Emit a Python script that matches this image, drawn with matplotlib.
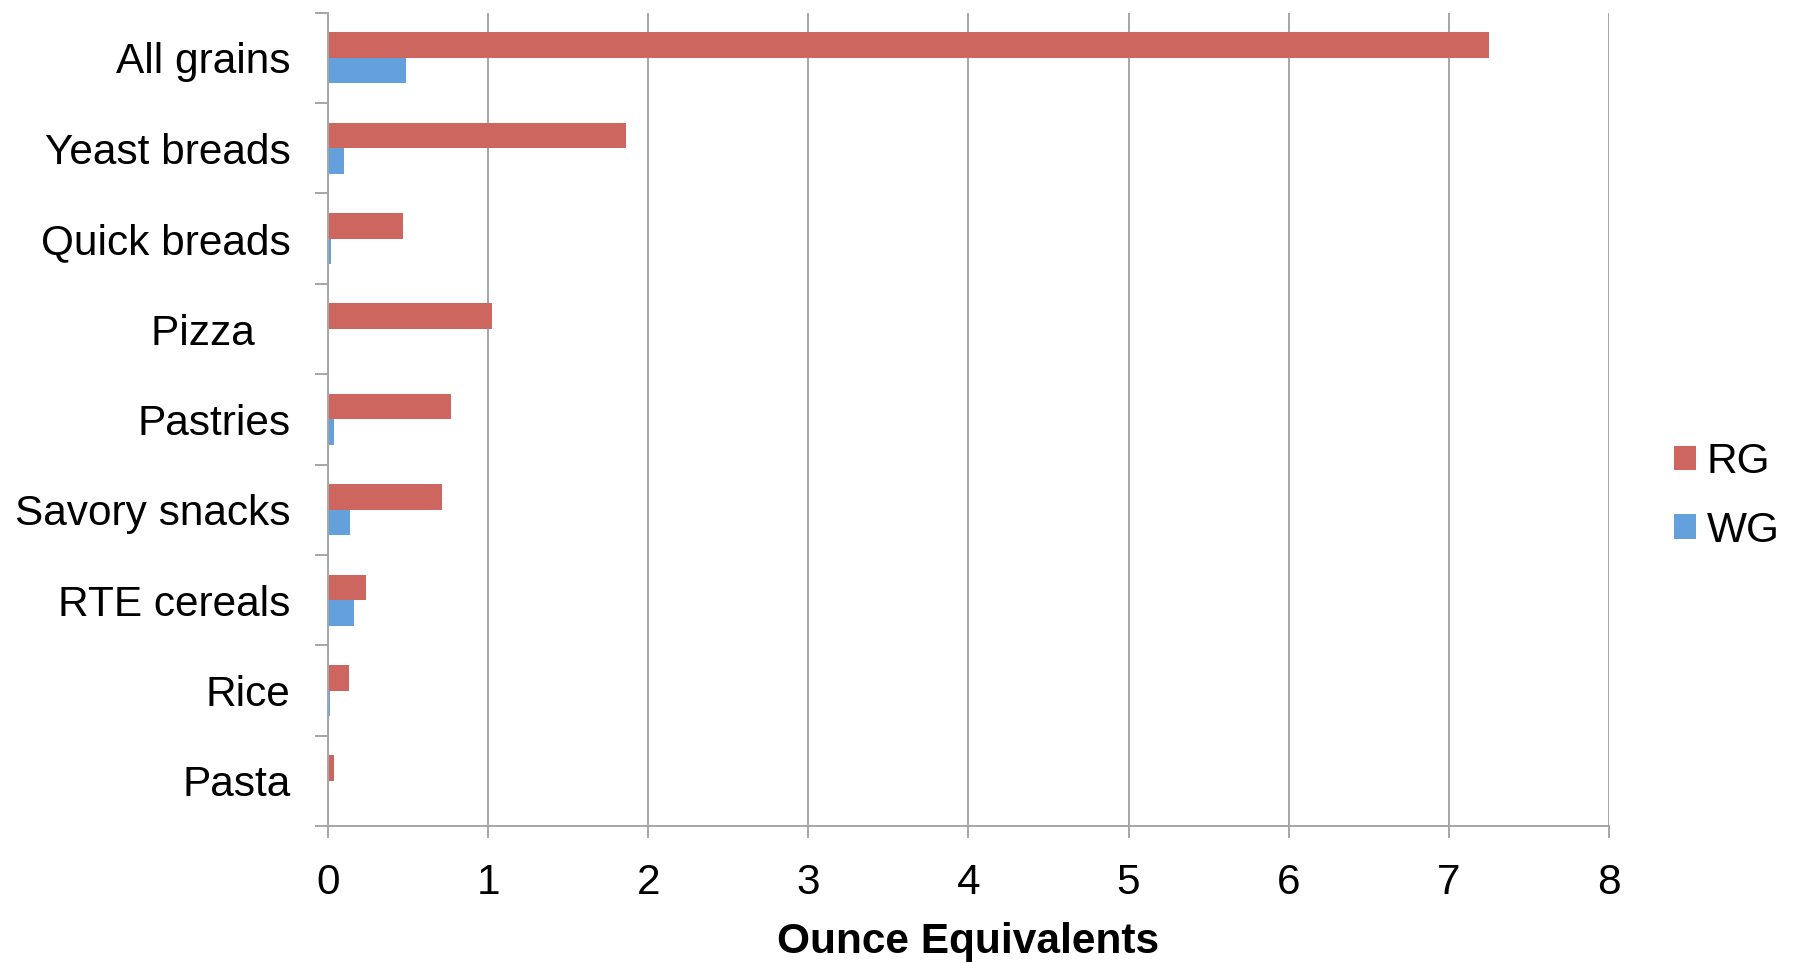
import numpy as np
import matplotlib
matplotlib.use("Agg")
import matplotlib.pyplot as plt
from matplotlib.ticker import FixedLocator

plt.rcParams['font.family'] = ['Liberation Sans', 'DejaVu Sans']

# grain intake by food category, ounce equivalents
categories = ['All grains', 'Yeast breads', 'Quick breads', 'Pizza   ', 'Pastries',
              'Savory snacks', 'RTE cereals', 'Rice', 'Pasta']
rg = [7.25, 1.86, 0.47, 1.025, 0.77, 0.71, 0.24, 0.13, 0.04]
wg = [0.49, 0.10, 0.02, 0.0, 0.04, 0.14, 0.16, 0.01, 0.0]
series_names = ['RG', 'WG']
colors = ['#CD665F', '#64A0DC']

grid_gray = '#A6A6A6'
fs = 30.5

fig = plt.figure(figsize=(17.95, 9.63), dpi=100)
ax = fig.add_axes([0.1827, 0.1422, 0.7137, 0.8446])

y = np.arange(len(categories))
h = 0.283
ax.barh(y - h / 2, rg, height=h, color=colors[0], label=series_names[0], zorder=3)
ax.barh(y + h / 2, wg, height=h, color=colors[1], label=series_names[1], zorder=3)

ax.set_xlim(0, 8)
ax.set_ylim(len(categories) - 0.5, -0.5)
ax.set_xticks(range(0, 9))
ax.set_yticks(y)
ax.set_yticklabels(categories)
ax.yaxis.set_minor_locator(FixedLocator(np.arange(-0.5, len(categories), 1)))

ax.tick_params(axis='y', which='major', length=0, pad=27, labelsize=fs)
ax.tick_params(axis='y', which='minor', length=9.1, width=1.4, color=grid_gray)
ax.tick_params(axis='x', which='major', length=8.6, width=1.4, color=grid_gray,
               pad=18, labelsize=fs)

ax.grid(axis='x', color=grid_gray, linewidth=1.4, zorder=0)
for side in ['top', 'right']:
    ax.spines[side].set_visible(False)
for side in ['left', 'bottom']:
    ax.spines[side].set_color(grid_gray)
    ax.spines[side].set_linewidth(1.4)
    ax.spines[side].set_zorder(4)

ax.set_xlabel('Ounce Equivalents', fontsize=fs, fontweight='bold', labelpad=13.5)

fig.legend(loc='center left', bbox_to_anchor=(0.9325, 0.4845), frameon=False,
           fontsize=fs, handlelength=0.52, handleheight=0.52, handletextpad=0.26,
           labelspacing=0.68, borderpad=0, borderaxespad=0)

fig.savefig('out.png', dpi=100)
